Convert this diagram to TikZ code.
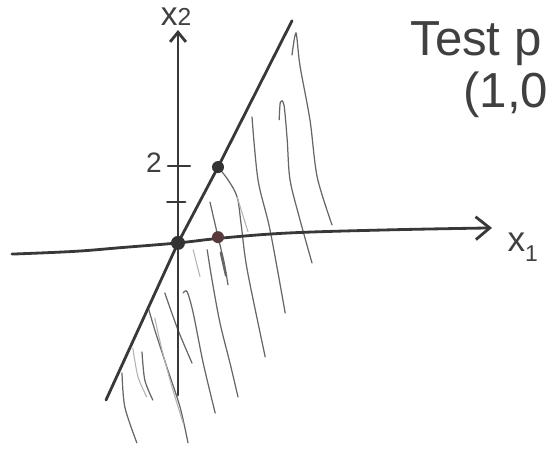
\documentclass[tikz,border=0pt]{standalone}
\usepackage{fontspec}
\setmainfont{Liberation Sans}
\usetikzlibrary{arrows.meta}
\definecolor{dotred}{RGB}{88,58,62}
\begin{document}
\begin{tikzpicture}[x=0.8cm,y=0.77cm]
    \tikzset{%
        ax/.style={draw=black!78, line width=1.6pt, line cap=round, line join=round},
        hh/.style={draw=black!60, line width=0.7pt, line cap=round},
        hf/.style={draw=black!30, line width=0.6pt, line cap=round},
        pt/.style={circle, fill=black!80, inner sep=0pt, minimum size=#1},
        pt/.default=0.24cm,
        lbl/.style={text=black!75, inner sep=0pt}%
        }
    \useasboundingbox (-4.45,-5.51) rectangle (9.425,6.31);
    \clip (-4.45,-5.51) rectangle (9.425,6.31);
    \coordinate (o) at (0,0);
    \coordinate (p10) at (1,0.15);
    \coordinate (p12) at (1,1.97);
    \coordinate (x1a) at (-4.15,-0.29);
    \coordinate (x1b) at (7.85,0.39);
    \coordinate (x2a) at (0,-3.95);
    \coordinate (x2b) at (0,5.53);
    \coordinate (la) at (-1.8,-4.08);
    \coordinate (lb) at (2.85,5.77);
    % hatching
    \draw[hh] plot[smooth] coordinates {(2.85,4.88) (2.95,5.45) (3.05,4.6) (3.3,3.19) (3.48,1.71) (3.85,0.47)};
    \draw[hh] plot[smooth] coordinates {(2.53,3.2) (2.56,3.66) (2.65,3.58) (2.73,2.68) (2.8,1.64) (3.05,0.6) (3.35,-0.52)};
    \draw[hh] plot[smooth] coordinates {(1.85,3.27) (2.0,1.64) (2.3,0.34) (2.68,-1.82)};
    \draw[hh] plot[smooth] coordinates {(p12) (1.25,1.64) (1.48,1.19) (1.58,0.47) (1.73,-0.7) (2.18,-2.96)};
    \draw[hf] (1.48,1.19) -- (1.75,0.29);
    \draw[hh] plot[smooth] coordinates {(0.8,1.06) (1.0,0.16) (1.15,-0.49) (1.25,-1.09)};
    \draw[hh, line width=1.3pt] (1.07,-0.25) -- (1.2,-0.85);
    \draw[hh] plot[smooth] coordinates {(0.73,-0.18) (0.85,-0.96) (1.05,-2.08) (1.3,-3.12) (1.5,-4.0)};
    \draw[hf] (0.38,-0.18) -- (0.55,-0.88);
    \draw[hh] plot[smooth] coordinates {(0.13,-1.3) (0.23,-1.27) (0.38,-1.82) (0.63,-3.12) (0.93,-4.42)};
    \draw[hh] plot[smooth] coordinates {(-0.33,-1.3) (0,-2.26) (0.35,-3.12)};
    \draw[hh] plot[smooth] coordinates {(-0.75,-1.66) (-0.58,-2.26) (-0.28,-3.22) (0.05,-4.26) (0.25,-5.19)};
    \draw[hf] plot[smooth] coordinates {(-0.58,-1.95) (-0.4,-2.78) (-0.15,-3.74) (0.13,-4.68)};
    \draw[hh] plot[smooth] coordinates {(-0.9,-2.83) (-0.83,-3.56) (-0.63,-4.08)};
    \draw[hf] plot[smooth] coordinates {(-1.13,-2.73) (-1.0,-3.48) (-0.78,-4.0)};
    \draw[hh] plot[smooth] coordinates {(-1.4,-3.38) (-1.33,-4.26) (-1.03,-5.19)};
    % axes and line
    \draw[ax, -{Straight Barb[length=8pt,width=13pt]}] plot[smooth, tension=0.6] coordinates {(x1a) (-2.6,-0.22) (-1.4,-0.12) (o) (1.13,0.13) (2.8,0.26) (5.3,0.34) (x1b)};
    \draw[ax, -{Straight Barb[length=5.5pt,width=9pt]}] (x2a) -- (x2b);
    \draw[ax] (la) -- (o) -- (p12) -- (lb);
    \draw[ax, line width=1.3pt] (-0.25,2) -- (0.3,2);
    \draw[ax, line width=1.3pt] (-0.27,1.07) -- (0.18,1.07);
    % points
    \node[pt=0.28cm] (d0) at (o) {};
    \node[pt, fill=dotred] (d10) at (p10) {};
    \node[pt=0.24cm] (d12) at (p12) {};
    % labels
    \node[lbl, anchor=base east, font=\fontsize{16}{16}\selectfont] (t2) at (-0.4,1.82) {2};
    \node[lbl, anchor=base, font=\fontsize{19}{19}\selectfont] (lx2) at (-0.05,5.66) {x{\fontsize{14}{14}\selectfont 2}};
    \node[lbl, anchor=base west, font=\fontsize{20}{20}\selectfont] (lx1) at (8.23,-0.23) {x\raisebox{-5.5pt}{\fontsize{13}{13}\selectfont 1}};
    \node[lbl, anchor=base west, font=\fontsize{28}{28}\selectfont] (tp) at (5.8,4.88) {Test p};
    \node[lbl, anchor=base west, font=\fontsize{28}{28}\selectfont] (tq) at (7.13,3.51) {(1,0};
\end{tikzpicture}
\end{document}
